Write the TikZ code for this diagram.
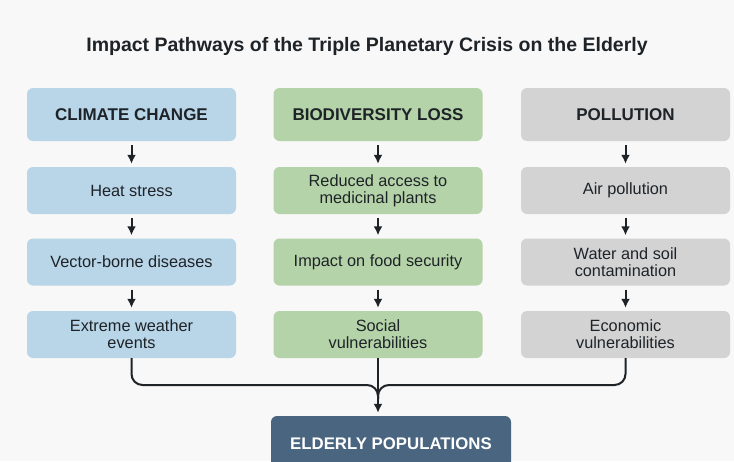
\documentclass[tikz,border=0pt]{standalone}
\usepackage{fontspec}
\setmainfont{Liberation Sans}
\usepackage{xcolor}
\usepackage{tikz}
\usetikzlibrary{arrows.meta,positioning}
\definecolor{Paper}{HTML}{F8F8F8}
\definecolor{Ink}{HTML}{1E2328}
\definecolor{ClimBlue}{HTML}{B9D5E8}
\definecolor{BioGreen}{HTML}{B5D3A8}
\definecolor{PolGray}{HTML}{D3D3D3}
\definecolor{Slate}{HTML}{4A6580}
\tikzset{
  head/.style={fill=#1,rounded corners=6pt,minimum width=209pt,minimum height=53pt,inner sep=0pt,align=center,text=Ink,font=\fontsize{17}{19}\selectfont\bfseries},
  item/.style={fill=#1,rounded corners=6pt,minimum width=209pt,minimum height=47pt,inner sep=0pt,align=center,text=Ink,font=\fontsize{16.3}{17}\selectfont},
  target/.style={fill=Slate,rounded corners=6pt,minimum width=240pt,minimum height=56pt,inner sep=0pt,align=center,text=white,font=\fontsize{16.8}{18}\selectfont\bfseries},
  line/.style={-{Latex[length=9pt,width=9pt]},line width=2pt,color=Ink,shorten <=4pt,shorten >=3pt},
  feed/.style={line width=2pt,color=Ink,rounded corners=11pt}
}
\begin{document}
\begin{tikzpicture}[x=1pt,y=-1pt]
  \path[use as bounding box,clip] (0,0) rectangle (734,461);
  \fill[Paper] (0,0) rectangle (734,461);
  \node[text=Ink,font=\fontsize{19.5}{21}\selectfont\bfseries] (title) at (367,46) {Impact Pathways of the Triple Planetary Crisis on the Elderly};
  % climate column
  \node[head=ClimBlue] (clim) at (131.5,114.5) {CLIMATE CHANGE};
  \node[item=ClimBlue] (heat) at (131.5,190.5) {Heat stress};
  \node[item=ClimBlue] (vector) at (131.5,262) {Vector-borne diseases};
  \node[item=ClimBlue] (extreme) at (131.5,334.5) {Extreme weather\\events};
  % biodiversity column
  \node[head=BioGreen] (bio) at (378,114.5) {BIODIVERSITY LOSS};
  \node[item=BioGreen] (medic) at (378,190.5) {Reduced access to\\medicinal plants};
  \node[item=BioGreen] (food) at (378,262) {Impact on food security};
  \node[item=BioGreen] (social) at (378,334.5) {Social\\vulnerabilities};
  % pollution column
  \node[head=PolGray] (poll) at (625.5,114.5) {POLLUTION};
  \node[item=PolGray] (air) at (625.5,190.5) {Air pollution};
  \node[item=PolGray] (water) at (625.5,262) {Water and soil\\contamination};
  \node[item=PolGray] (econ) at (625.5,334.5) {Economic\\vulnerabilities};
  % common outcome
  \node[target] (elder) at (391,444) {ELDERLY POPULATIONS};
  \coordinate (bus) at (378,385);
  \coordinate (hub) at (378,399);
  \draw[line] (clim) -- (heat);
  \draw[line] (heat) -- (vector);
  \draw[line] (vector) -- (extreme);
  \draw[line] (bio) -- (medic);
  \draw[line] (medic) -- (food);
  \draw[line] (food) -- (social);
  \draw[line] (poll) -- (air);
  \draw[line] (air) -- (water);
  \draw[line] (water) -- (econ);
  \draw[feed] (extreme.south) |- (bus) -- (hub);
  \draw[feed] (econ.south) |- (bus) -- (hub);
  \draw[line,shorten <=0pt] (social.south) -- (social.south|-elder.north);
\end{tikzpicture}
\end{document}
